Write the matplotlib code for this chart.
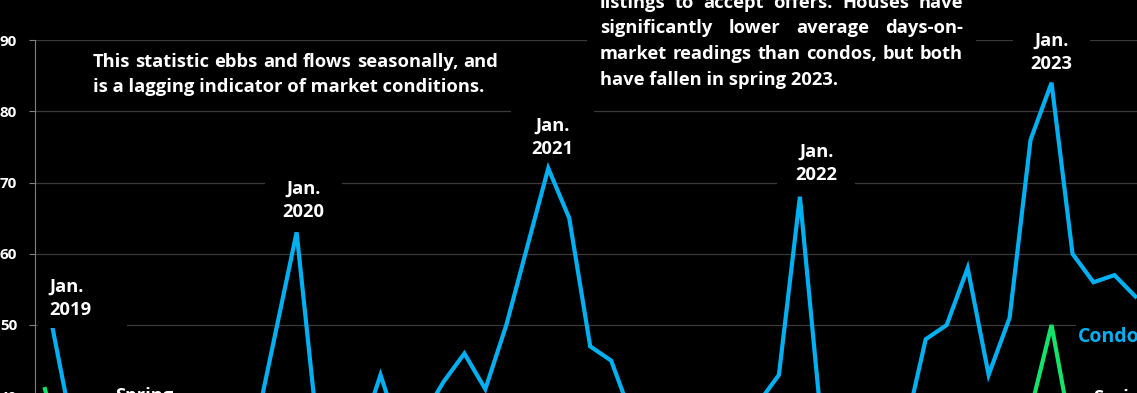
import matplotlib
matplotlib.use('Agg')
import matplotlib.pyplot as plt
from matplotlib.patches import Rectangle

# average days on market, monthly from Jan. 2019
condos = [55, 40, 36, 34, 33, 32, 33, 34, 35, 36, 35, 49, 63, 35, 33, 34, 43, 34,
          37, 42, 46, 41, 50, 61, 72, 65, 47, 45, 37, 35, 34, 33, 34, 36, 39, 43,
          68, 37, 34, 33, 33, 35, 48, 50, 58, 43, 51, 76, 84, 60, 56, 57, 54]
houses = [41, 30, 27, 25, 24, 23, 24, 25, 26, 27, 29, 33, 37, 31, 28, 26, 25, 25,
          24, 25, 26, 27, 30, 34, 36, 29, 25, 22, 21, 20, 21, 22, 23, 25, 28, 31,
          33, 27, 23, 21, 20, 22, 25, 28, 30, 31, 32, 38, 50, 34, 27, 25, 24]
y_ticks = [40, 50, 60, 70, 80, 90]
peak_labels = ['Jan.\n2019', 'Jan.\n2020', 'Jan.\n2021', 'Jan.\n2022', 'Jan.\n2023']

note_left = ['This statistic ebbs and flows seasonally, and',
             'is a lagging indicator of market conditions.']
note_right = ['listings to accept offers. Houses have',
              'significantly lower average days-on-',
              'market readings than condos, but both',
              'have fallen in spring 2023.']

BLUE = '#00B0F0'
GREEN = '#12E36A'
FONT = 'Open Sans'
FS = 13.2

W, H = 1137, 393
fig = plt.figure(figsize=(W / 100, H / 100), dpi=100, facecolor='black')


def px(x, y):
    # pixel position (from top-left) -> figure fraction
    return x / W, 1 - y / H


# axes: 90 sits at y=40px, 7.125 px per day; month step 20.97 px starting at x=45
ax = fig.add_axes([34.5 / W, (H - 467.5) / H, 1111.4 / W, 427.5 / H])
ax.set_facecolor('black')
ax.set_xlim(-0.5, 52.5)
ax.set_ylim(30, 90)

months = range(len(condos))
ax.plot(months, condos, color=BLUE, lw=3, solid_joinstyle='miter', zorder=3)
ax.plot(months, houses, color=GREEN, lw=3, solid_joinstyle='miter', zorder=3)

ax.set_yticks(y_ticks)
ax.set_yticklabels([str(t) for t in y_ticks], color='white', fontsize=11,
                   fontweight='bold', family=FONT)
ax.tick_params(axis='y', length=4, width=0.8, color='#7f7f7f', pad=8.5)
ax.set_xticks([])
ax.grid(axis='y', color='#3a3a3a', lw=0.9)
ax.set_axisbelow(True)
for side in ['top', 'right', 'bottom']:
    ax.spines[side].set_visible(False)
ax.spines['left'].set_color('#7f7f7f')
ax.spines['left'].set_linewidth(0.8)


def black_box(x0, y0, x1, y1):
    fx0, fy1 = px(x0, y0)
    fx1, fy0 = px(x1, y1)
    fig.patches.append(Rectangle((fx0, fy0), fx1 - fx0, fy1 - fy0,
                                 transform=fig.transFigure, facecolor='black',
                                 edgecolor='none', zorder=2))


def put(x, y, s, ha='left', color='white', size=FS):
    return fig.text(*px(x, y), s, ha=ha, va='baseline', color=color,
                    fontsize=size, fontweight='bold', family=FONT, zorder=3)


def justified(lines, x0, x1, y0, step, size=FS):
    r = fig.canvas.get_renderer()
    for k, line in enumerate(lines):
        y = y0 + k * step
        words = line.split()
        if k == len(lines) - 1:
            put(x0, y, line, size=size)
            continue
        ts = [put(0, y, w, size=size) for w in words]
        widths = [t.get_window_extent(r).width for t in ts]
        gap = (x1 - x0 - sum(widths)) / (len(words) - 1)
        x = x0
        for t, w in zip(ts, widths):
            t.set_position(px(x, y))
            x += w + gap


# peak labels: (box, anchor x, first baseline, alignment)
label_layout = [((38, 268, 127, 328), 49, 292, 'left'),
                ((265, 170, 342, 223), 303.5, 193.5, 'center'),
                ((511, 108, 594, 160), 552.5, 131, 'center'),
                ((777, 134, 855, 186), 816.5, 157, 'center'),
                ((1013, 22, 1090, 77), 1051.5, 46, 'center')]
for text, (box, lx, ly, ha) in zip(peak_labels, label_layout):
    black_box(*box)
    for k, part in enumerate(text.split('\n')):
        put(lx, ly + k * 23.4, part, ha=ha)

black_box(587, -5, 976, 98)
justified(note_left, 93, 498, 67, 25)
justified(note_right, 600, 963, 7.5, 25.9)

black_box(1076, 322, 1140, 348)
put(1078, 342.5, 'Condos', color=BLUE, size=FS + 0.8)
put(115, 401, 'Spring')
put(1093, 403, 'Spring')

fig.savefig('out.png', dpi=100, facecolor='black')
